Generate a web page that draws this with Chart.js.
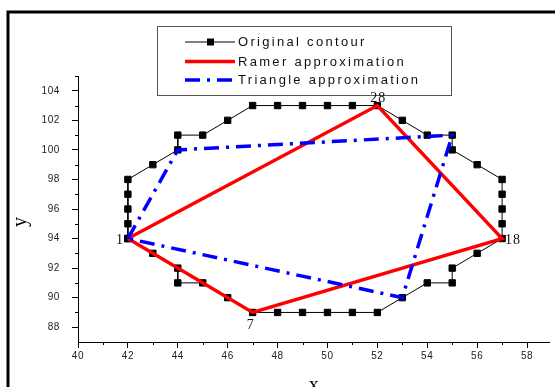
<!DOCTYPE html>
<html lang="en">
<head>
<meta charset="UTF-8">
<title>Contour approximation</title>
<script src="https://cdn.jsdelivr.net/npm/chart.js"></script>
<style>
  body { margin: 0; background: #fff; }
  #wrap { width: 555px; height: 387px; }
</style>
</head>
<body>
<div id="wrap"><canvas id="myChart" width="555" height="387"></canvas></div>
<script>
// contour points, walked from point 1 clockwise-ish and closed back on point 1
const contourX = [42, 43, 44, 44, 45, 46, 47, 48, 49, 50, 51, 52, 53, 54, 55, 55, 56, 57, 57, 57, 57, 57, 56, 55, 55, 54, 53, 52, 51, 50, 49, 48, 47, 46, 45, 44, 44, 43, 42, 42, 42, 42, 42];
const contourY = [94, 93, 92, 91, 91, 90, 89, 89, 89, 89, 89, 89, 90, 91, 91, 92, 93, 94, 95, 96, 97, 98, 99, 100, 101, 101, 102, 103, 103, 103, 103, 103, 103, 102, 101, 101, 100, 99, 98, 97, 96, 95, 94];
const ramerX = [42, 47, 57, 52, 42];
const ramerY = [94, 89, 94, 103, 94];
const triangleX = [42, 44, 55, 53, 42];
const triangleY = [94, 100, 101, 90, 94];
const seriesNames = ['Original contour', 'Ramer approximation', 'Triangle approximation'];
const xTicks = [40, 41, 42, 43, 44, 45, 46, 47, 48, 49, 50, 51, 52, 53, 54, 55, 56, 57, 58];
const yTicks = [87, 88, 89, 90, 91, 92, 93, 94, 95, 96, 97, 98, 99, 100, 101, 102, 103, 104, 105];
const markedPoints = [0, 6, 17, 27]; // contour indices, labelled index + 1

const toPoints = (xs, ys) => xs.map((x, i) => ({ x: x, y: ys[i] }));
const majorColor = c => (c.tick && c.tick.value % 2 === 0) ? '#000' : 'rgba(0,0,0,0)';
const tickFont = { family: 'Liberation Sans, Arial, sans-serif', size: 10 };
const blueDash = [15, 7, 3, 7];

const extras = {
  id: 'extras',
  beforeDraw(chart) {
    const ctx = chart.ctx;
    ctx.save();
    ctx.fillStyle = '#fff';
    ctx.fillRect(0, 0, chart.width, chart.height);
    ctx.strokeStyle = '#000';
    ctx.lineWidth = 3;
    ctx.strokeRect(8, 12, 800, 600); // outer frame, runs off the right and bottom
    ctx.restore();
    ctx.letterSpacing = '0.6px';
  },
  afterDraw(chart) {
    const ctx = chart.ctx;
    const xs = chart.scales.x, ys = chart.scales.y;
    const area = chart.chartArea;
    ctx.save();
    ctx.letterSpacing = '0px';

    // minor ticks
    ctx.strokeStyle = '#000';
    ctx.lineWidth = 1;
    ctx.beginPath();
    xTicks.filter(v => v % 2 !== 0).forEach(v => {
      const px = Math.round(xs.getPixelForValue(v)) + 0.5;
      ctx.moveTo(px, area.bottom);
      ctx.lineTo(px, area.bottom + 3);
    });
    yTicks.filter(v => v % 2 !== 0 && v !== 87).forEach(v => {
      const py = Math.round(ys.getPixelForValue(v)) + 0.5;
      ctx.moveTo(area.left - 3, py);
      ctx.lineTo(area.left, py);
    });
    ctx.stroke();

    // legend box
    const bx = 157.5, by = 26.5, bw = 294, bh = 69;
    ctx.fillStyle = '#fff';
    ctx.fillRect(bx, by, bw, bh);
    ctx.strokeStyle = '#555';
    ctx.lineWidth = 1;
    ctx.strokeRect(bx, by, bw, bh);
    const rows = [42, 61.5, 80];
    const styles = [
      { color: '#000', width: 1, dash: [] },
      { color: '#ff0000', width: 3.5, dash: [] },
      { color: '#0000ff', width: 3.5, dash: blueDash }
    ];
    rows.forEach((ry, i) => {
      ctx.strokeStyle = styles[i].color;
      ctx.lineWidth = styles[i].width;
      ctx.setLineDash(styles[i].dash);
      ctx.beginPath();
      ctx.moveTo(185, ry);
      ctx.lineTo(235, ry);
      ctx.stroke();
      ctx.setLineDash([]);
      if (i === 0) {
        ctx.fillStyle = '#000';
        ctx.fillRect(207, ry - 3.5, 7, 7);
      }
      ctx.fillStyle = '#111';
      ctx.font = '13px "Liberation Sans", Arial, sans-serif';
      ctx.letterSpacing = '2.3px';
      ctx.textAlign = 'left';
      ctx.textBaseline = 'middle';
      ctx.fillText(seriesNames[i], 238, ry + 0.5);
    });

    // point labels
    ctx.font = '14px "Liberation Serif", "Times New Roman", serif';
    ctx.letterSpacing = '1px';
    ctx.fillStyle = '#111';
    ctx.textBaseline = 'alphabetic';
    markedPoints.forEach(i => {
      const px = xs.getPixelForValue(contourX[i]);
      const py = ys.getPixelForValue(contourY[i]);
      const txt = String(i + 1);
      if (i === 0) { ctx.textAlign = 'right'; ctx.fillText(txt, px - 4, py + 5); }
      else if (i === 6) { ctx.textAlign = 'center'; ctx.fillText(txt, px - 2, py + 17); }
      else if (i === 17) { ctx.textAlign = 'left'; ctx.fillText(txt, px + 3, py + 5); }
      else { ctx.textAlign = 'center'; ctx.fillText(txt, px + 1, py - 4); }
    });

    // axis titles
    ctx.letterSpacing = '0px';
    ctx.font = '20px "Liberation Serif", "Times New Roman", serif';
    ctx.fillStyle = '#000';
    ctx.textAlign = 'center';
    ctx.fillText('x', (area.left + area.right) / 2, 391);
    ctx.translate(26, 222);
    ctx.rotate(-Math.PI / 2);
    ctx.fillText('y', 0, 0);
    ctx.restore();
  }
};

const ctx = document.getElementById('myChart').getContext('2d');

const myChart = new Chart(ctx, {
  type: 'scatter',
  data: {
    datasets: [
      {
        label: seriesNames[0],
        data: toPoints(contourX, contourY),
        showLine: true,
        borderColor: '#000',
        borderWidth: 1,
        pointStyle: 'rect',
        pointRadius: 4.5,
        pointBackgroundColor: '#000',
        pointBorderColor: '#000',
        pointBorderWidth: 1,
        order: 3
      },
      {
        label: seriesNames[1],
        data: toPoints(ramerX, ramerY),
        showLine: true,
        borderColor: '#ff0000',
        borderWidth: 3.5,
        pointRadius: 0,
        order: 2
      },
      {
        label: seriesNames[2],
        data: toPoints(triangleX, triangleY),
        showLine: true,
        borderColor: '#0000ff',
        borderWidth: 3.5,
        borderDash: blueDash,
        pointRadius: 0,
        order: 1
      }
    ]
  },
  options: {
    responsive: false,
    animation: false,
    devicePixelRatio: 1,
    layout: { padding: { left: 0, top: 76, right: 1, bottom: 0 } },
    plugins: { legend: { display: false }, tooltip: { enabled: false } },
    scales: {
      x: {
        type: 'linear',
        min: 40,
        max: 58.9,
        afterBuildTicks: s => { s.ticks = xTicks.map(v => ({ value: v })); },
        afterFit: s => { s.height = 45; },
        grid: { drawOnChartArea: false, tickLength: 6, color: majorColor },
        border: { color: '#000', width: 1 },
        ticks: {
          padding: 2,
          color: '#222',
          font: tickFont,
          maxRotation: 0,
          autoSkip: false,
          callback: v => v % 2 === 0 ? v : ''
        }
      },
      y: {
        type: 'linear',
        min: 87,
        max: 105,
        afterBuildTicks: s => { s.ticks = yTicks.map(v => ({ value: v })); },
        afterFit: s => { s.width = 78; },
        grid: { drawOnChartArea: false, tickLength: 6, color: majorColor },
        border: { color: '#000', width: 1 },
        ticks: {
          padding: 12,
          color: '#222',
          font: tickFont,
          autoSkip: false,
          callback: v => (v % 2 === 0 && v !== 87) ? v : ''
        }
      }
    }
  },
  plugins: [extras]
});
</script>
</body>
</html>
